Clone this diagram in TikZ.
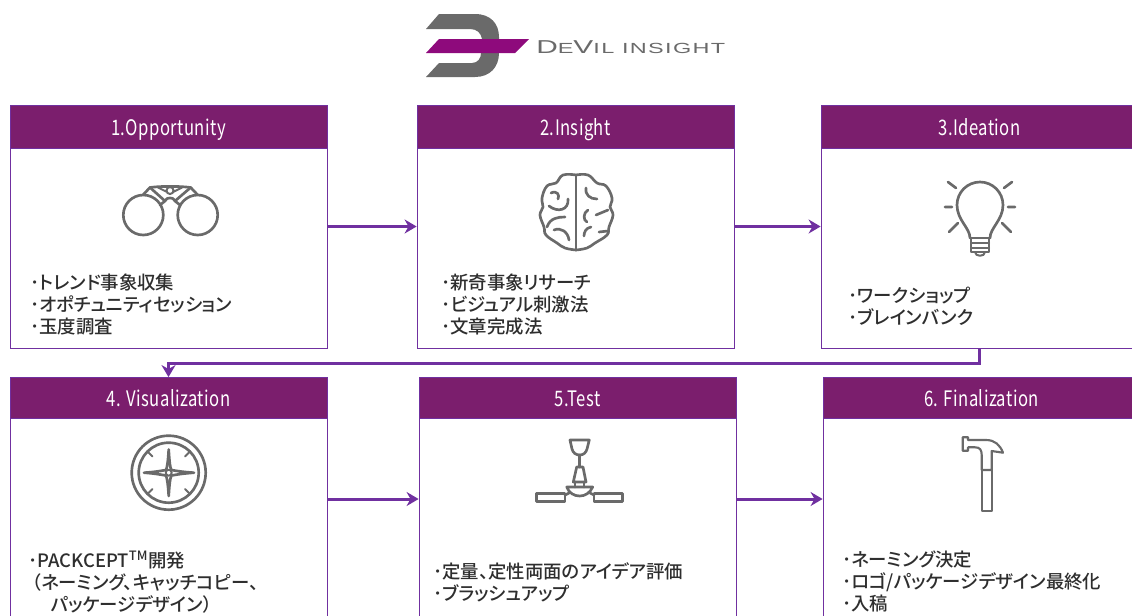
\documentclass[tikz,border=0pt]{standalone}
\usepackage{fontspec}
\setmainfont[RawFeature=+palt]{Noto Sans CJK JP Medium}
\newfontfamily\titlefont[FakeStretch=0.78,LetterSpace=2]{Noto Sans CJK JP}
\newfontfamily\logofont[FakeStretch=1.6,LetterSpace=9]{Liberation Sans}
\usetikzlibrary{arrows.meta}
\definecolor{headpurple}{HTML}{7B1E6D}
\definecolor{linepurple}{HTML}{7030A0}
\definecolor{icongray}{HTML}{6A6A6A}
\definecolor{logopurple}{HTML}{8E0A7C}
\definecolor{listgray}{HTML}{2E2E2E}

\begin{document}
\begin{tikzpicture}[x=0.75pt,y=-0.75pt,
		stagebox/.style={draw=linepurple,line width=0.6pt,minimum width=237.75pt,minimum height=182.25pt,inner sep=0pt},
		stagehead/.style={draw=linepurple,line width=0.6pt,fill=headpurple,text=white,minimum width=237.75pt,inner sep=0pt,anchor=north,text height=13.2pt,text depth=0pt,font=\titlefont\fontsize{16}{18}\selectfont},
		stagelist/.style={anchor=west,align=left,inner sep=0pt,text=listgray,font=\fontsize{13.8}{16.5}\selectfont},
		flow/.style={-{Stealth[length=9pt,width=10.5pt]},draw=linepurple,line width=2.25pt},
		iconline/.style={draw=icongray,line width=2pt,line join=round,line cap=round}]
		\useasboundingbox (0,0) rectangle (1132,615);
		\clip (0,0) rectangle (1132,615);
		
		% logo
		\fill[icongray] (426,29) -- (439,14) -- (475,14) .. controls (491,14) and (499,24) .. (499,37) -- (499,39) -- (482,39) .. controls (481,33) and (477,29) .. (470,29) -- cycle;
		\fill[icongray] (426,77) -- (439,63) -- (472,63) .. controls (478,63) and (481,58) .. (481,53) -- (499,53) .. controls (499,67) and (490,77) .. (475,77) -- cycle;
		\fill[logopurple] (426,53) -- (439,39) -- (529,39) -- (515,53) -- cycle;
		\node[inner sep=0pt,anchor=west,text=icongray] (logo) at (536,47) {\logofont\fontsize{14}{14}\selectfont D\fontsize{11}{14}\selectfont E\fontsize{14}{14}\selectfont V\fontsize{11}{14}\selectfont IL INSIGHT};
		
		% stages
		\node[stagebox] (box1) at (168.5,226.5) {};
		\node[stagebox] (box2) at (575.5,226.5) {};
		\node[stagebox] (box3) at (979.5,226.5) {};
		\node[stagebox] (box4) at (168.5,499) {};
		\node[stagebox] (box5) at (577.5,499) {};
		\node[stagebox] (box6) at (981.5,499) {};
		
		\node[stagehead,minimum height=32.25pt] (head1) at (box1.north) {1.Opportunity};
		\node[stagehead,minimum height=32.25pt] (head2) at (box2.north) {2.Insight};
		\node[stagehead,minimum height=32.25pt] (head3) at (box3.north) {3.Ideation};
		\node[stagehead,minimum height=30.75pt] (head4) at (box4.north) {4. Visualization};
		\node[stagehead,minimum height=30.75pt] (head5) at (box5.north) {5.Test};
		\node[stagehead,minimum height=30.75pt] (head6) at (box6.north) {6. Finalization};
		
		\node[stagelist] (list1) at (30,305) {･トレンド事象収集\\･オポチュニティセッション\\･玉度調査};
		\node[stagelist] (list2) at (441,305) {･新奇事象リサーチ\\･ビジュアル刺激法\\･文章完成法};
		\node[stagelist] (list3) at (848,306) {･ワークショップ\\･ブレインバンク};
		\node[stagelist] (list4) at (28,582) {･PACKCEPT\textsuperscript{TM}開発\\\hspace{3pt}（ネーミング、キャッチコピー、\\\hspace{17pt}パッケージデザイン）};
		\node[stagelist] (list5) at (433,582) {･定量、定性両面のアイデア評価\\･ブラッシュアップ};
		\node[stagelist] (list6) at (842,581) {･ネーミング決定\\･ロゴ/パッケージデザイン最終化\\･入稿};
		
		\draw[flow] (box1.east) -- (box2.west);
		\draw[flow] (box2.east) -- (box3.west);
		\draw[flow] (box3.south) -- ++(0,15) -| (box4.north);
		\draw[flow] (box4.east) -- (box5.west);
		\draw[flow] (box5.east) -- (box6.west);
		
		% binoculars
		\draw[iconline] (143.3,215) circle (20) (197.7,215) circle (20);
		\draw[iconline] (143.3,194.5) -- (150,187.5) .. controls (160,186) and (180,186) .. (190.7,187.5) -- (197.3,194.5);
		\draw[iconline] (150,187.5) -- (165,201) -- (160,205) (190.7,187.5) -- (175,201) -- (180,205);
		\draw[iconline] (165,201) .. controls (167,198) and (168,198) .. (170,198) .. controls (172,198) and (173,198) .. (175,201);
		\draw[iconline,line width=1.5pt] (170,190.5) circle (3.5) (167,192) -- (158,187.5) (173,192) -- (182,187.5);
		
		% brain
		\draw[iconline] (576,175) -- (576,250);
		\draw[iconline] plot[smooth,tension=0.7] coordinates {(576,175) (563,175) (556,183) (547,186) (542,198) (543,207) (540,215) (544,227) (546,235) (557,243) (565,248) (576,250)};
		\draw[iconline] plot[smooth,tension=0.7] coordinates {(576,175) (588,175) (597,183) (606,186) (612,198) (610,207) (613,215) (609,227) (607,235) (595,243) (587,248) (576,250)};
		\draw[iconline] (551,193) .. controls (557,190) and (560,195) .. (558,199) (549,206) .. controls (558,213) and (569,210) .. (568,199);
		\draw[iconline] (547,227) .. controls (550,218) and (558,217) .. (565,217) (554,230) .. controls (561,227) and (568,232) .. (569,240);
		\draw[iconline] (586,188) .. controls (585,195) and (590,199) .. (597,199);
		\draw[iconline] (588,210) .. controls (583,213) and (583,220) .. (587,222) (596,215) -- (608,210);
		\draw[iconline] (591,227) .. controls (586,228) and (584,232) .. (584,236) (599,232) -- (608,231);
		
		% light bulb
		\draw[iconline] (970,238) .. controls (970,228) and (957,220) .. (957,205) arc (180:360:23) .. controls (1003,220) and (990,228) .. (990,238);
		\draw[iconline,line width=1.5pt] (970,238) -- (990,238) (971,243) -- (989,243) (971,248) -- (989,248) (971,238) -- (971,252) -- (989,252) -- (989,238);
		\draw[iconline,line width=1.5pt] (975,252) .. controls (975,257) and (985,257) .. (985,252);
		\draw[iconline] (948,182) -- (956,188) (1012,182) -- (1004,188) (945,207) -- (952,207) (1015,207) -- (1008,207) (949,232) -- (958,223) (1011,232) -- (1002,223);
		
		% compass
		\draw[iconline] (168.7,472.7) circle (37) (168.7,472.7) circle (30);
		\draw[iconline] (168.7,449.5) .. controls (168,462) and (167,468) .. (166,470) .. controls (160,471) and (155,472) .. (144,472.7) .. controls (155,473.5) and (160,474.5) .. (166,475.5) .. controls (167,478) and (168,484) .. (168.7,496) .. controls (169.5,484) and (170,478) .. (171.5,475.5) .. controls (177,474.5) and (183,473.5) .. (194,472.7) .. controls (183,472) and (177,471) .. (171.5,470) .. controls (170,468) and (169.5,462) .. cycle;
		\draw[iconline,line width=1.5pt] (168.7,472.7) circle (3) (147.5,451.5) -- (152.5,456.5) (190,451.5) -- (185,456.5) (147.5,494) -- (152.5,489) (190,494) -- (185,489);
		
		% fan
		\draw[iconline] (570,440) -- (589.3,440) -- (587,449) .. controls (586,453) and (583,455) .. (579.7,455) .. controls (576,455) and (573,453) .. (572,449) -- cycle;
		\draw[iconline] (579.7,455) -- (579.7,467);
		\draw[iconline] (576.7,467) -- (583,467) -- (586,482) -- (573.3,482) -- cycle;
		\draw[iconline] (575,482) -- (575,487) (584,482) -- (584,487);
		\draw[iconline] (566.7,487) -- (592.7,487) .. controls (590,493) and (585,496) .. (579.7,496) .. controls (574,496) and (569,493) .. (566.7,487) -- cycle;
		\draw[iconline] (536.7,493.5) rectangle (565,501.7) (594,493.5) rectangle (622.3,501.7);
		\draw[iconline] (565,495) -- (569,493) (594,495) -- (590,493);
		
		% hammer
		\draw[iconline,line width=1.6pt] (962.7,437.3) -- (962.7,450.7) -- (968,450.7) -- (968,447.3) -- (975,447.3) .. controls (980,447.3) and (981.7,450) .. (981.7,455) -- (981.7,470) -- (991.7,470) -- (991.7,451) -- (1003,452.7) .. controls (1000,445) and (995,440) .. (986,440) -- (968,440) -- (968,437.3) -- cycle;
		\draw[iconline,line width=1.6pt] (981.7,470) -- (981.7,511) -- (991.7,511) -- (991.7,470);
		\end{tikzpicture}
\end{document}
